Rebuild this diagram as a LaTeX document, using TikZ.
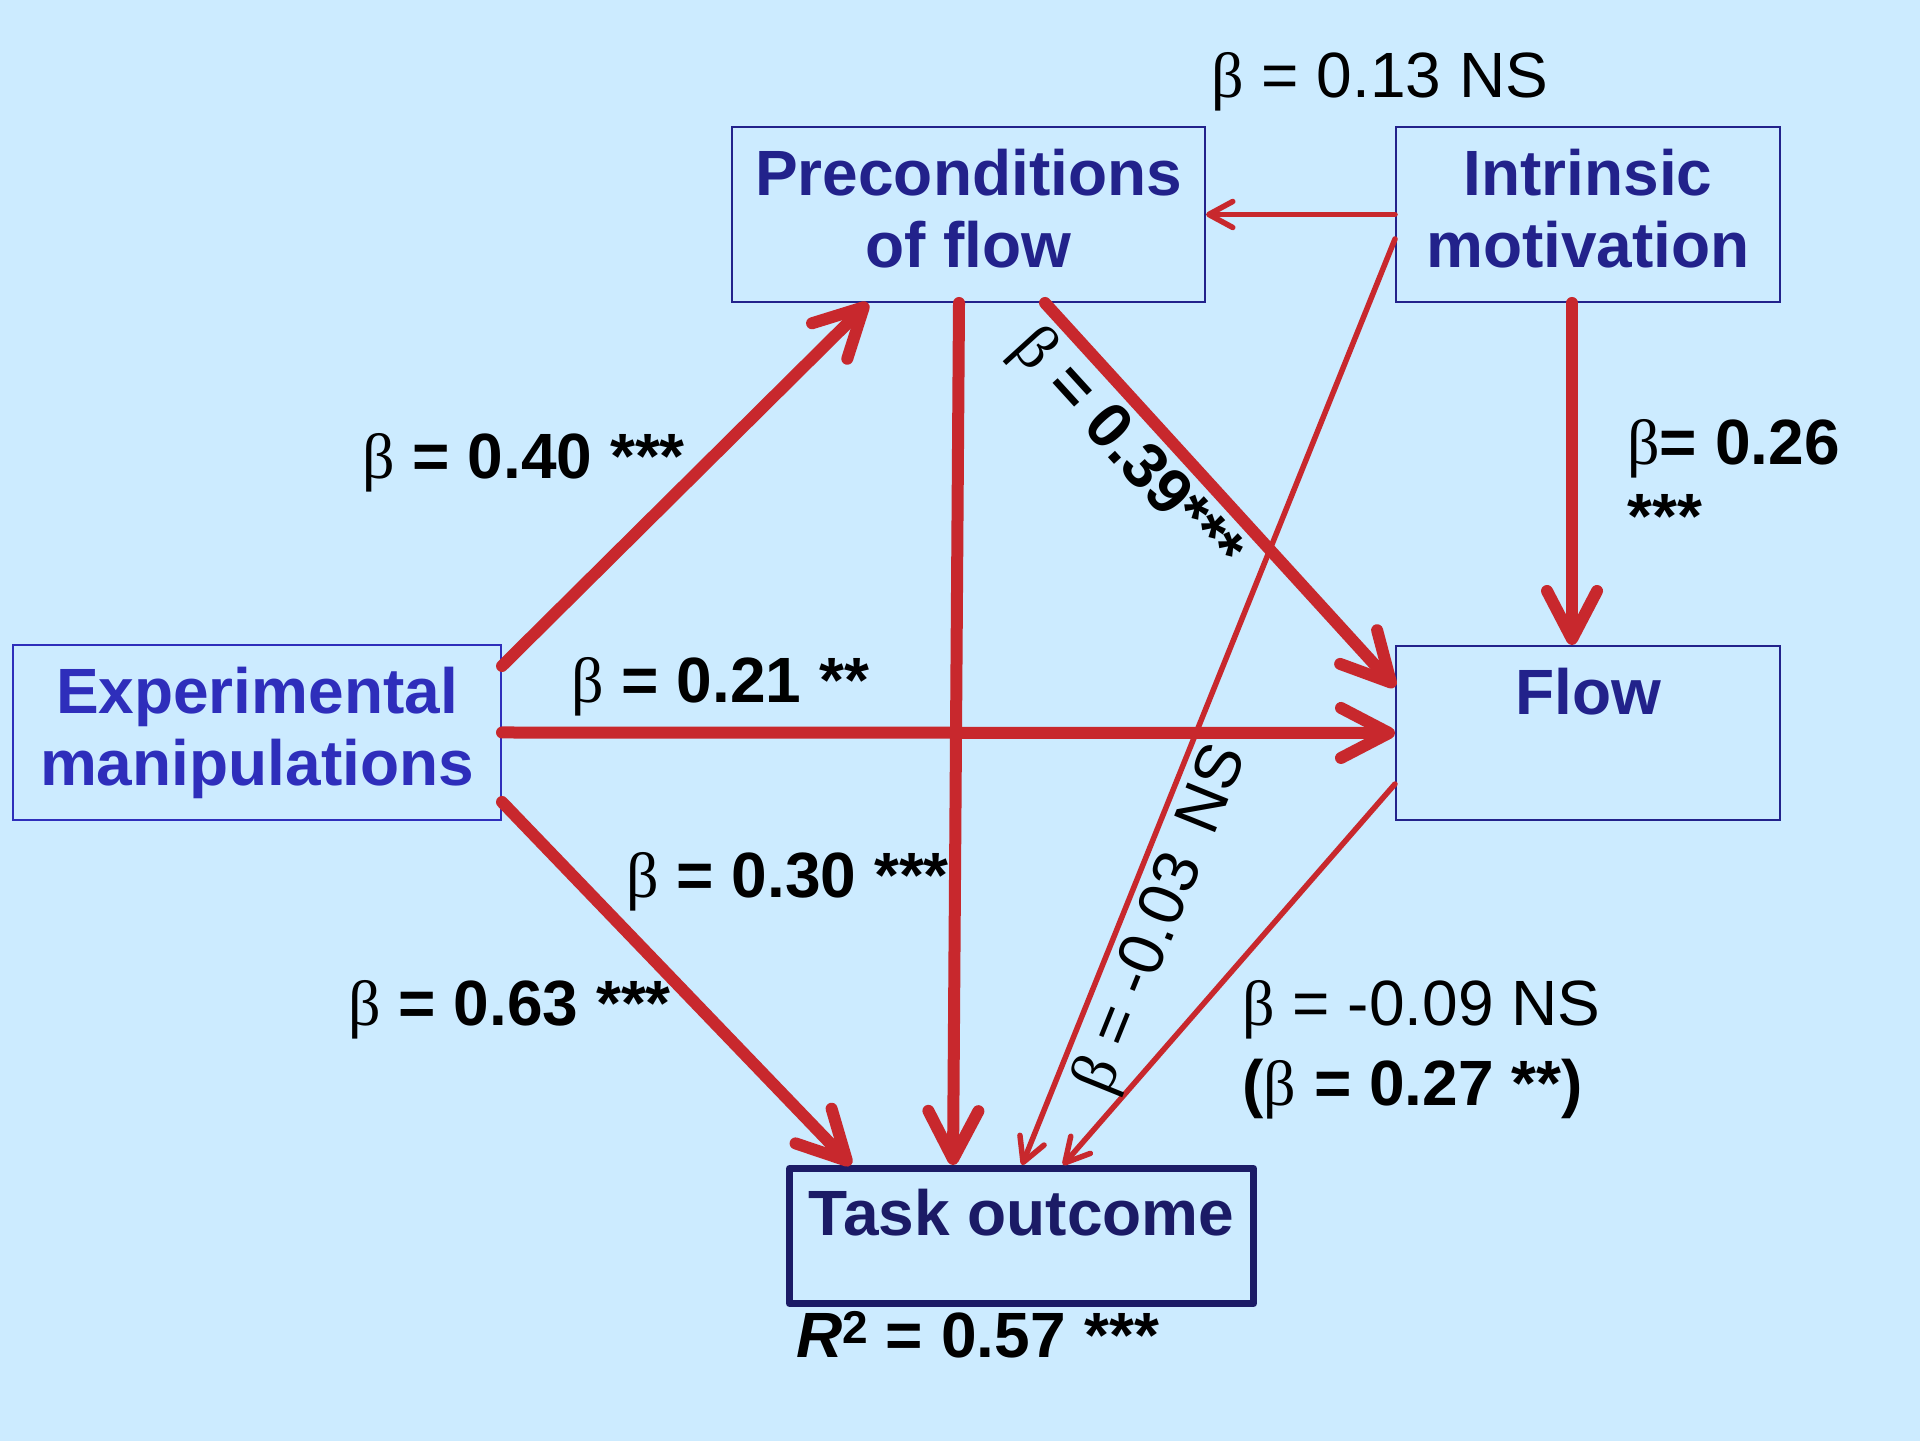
\documentclass[tikz,border=0pt]{standalone}
\usepackage{fontspec}
\setmainfont{Liberation Sans}
\newfontfamily\betafont{Liberation Serif}
\usetikzlibrary{arrows.meta}
\definecolor{bg}{RGB}{204,235,255}
\definecolor{arrowred}{RGB}{200,40,45}
\definecolor{navy}{RGB}{34,34,139}
\definecolor{expblue}{RGB}{46,46,187}
\definecolor{tasknavy}{RGB}{27,27,102}
\newcommand{\gb}{{\betafont\mdseries β}}
\newcommand{\bigfont}{\fontsize{32pt}{36pt}\selectfont}
\tikzset{
  box/.style={draw=navy, line width=1pt, text=navy, font=\bfseries\bigfont, inner sep=0pt},
  thk/.style={draw=arrowred, line width=6pt, line cap=round, -{Straight Barb[length=24pt,width=25pt,round]}},
  thn/.style={draw=arrowred, line width=2.75pt, line cap=round, -{Straight Barb[length=12pt,width=13pt,round]}},
  lbb/.style={inner sep=0pt, anchor=base west, font=\bfseries\bigfont, text=black},
  lbr/.style={inner sep=0pt, anchor=base west, font=\bigfont, text=black}
}
\begin{document}
\begin{tikzpicture}[x=0.5pt,y=0.5pt]
\useasboundingbox (0,0) rectangle (1920,1440);
\fill[bg] (-4,-4) rectangle (1924,1444);

% boxes
\node[box, align=center, minimum width=236.5pt, minimum height=87.5pt] (pre) at (968.5,1225.5) {Preconditions\\of flow\vphantom{p}};
\node[box, align=center, minimum width=192pt, minimum height=87.5pt] (intr) at (1588,1225.5) {Intrinsic\\motivation\vphantom{p}};
\node[box, align=center, draw=expblue, text=expblue, minimum width=244pt, minimum height=87.5pt] (exp) at (257,707.5) {Experimental\\manipulations};
\node[box, minimum width=192pt, text height=34.5pt, text depth=52.5pt, anchor=north] (flow) at (1588,795) {Flow};
\node[draw=tasknavy, line width=3.5pt, line join=round, text=tasknavy, font=\bfseries\bigfont,
      inner sep=0pt, minimum width=232pt, text height=33.25pt, text depth=34.25pt, anchor=north] (task) at (1021.5,275) {Task outcome};

% connectors
\draw[thk] ([yshift=-11pt]exp.north east) -- ([xshift=68.5pt]pre.south west);
\draw[thk] (exp.east) -- (flow.west);
\draw[thk] ([yshift=9.5pt]exp.south east) -- ([xshift=32.5pt]task.north west);
\draw[thk] ([xshift=114pt]pre.south west) -- ([xshift=83.5pt]task.north west);
\draw[thk] ([xshift=157pt]pre.south west) -- ([yshift=-21pt]flow.north west);
\draw[thk] ([xshift=88.5pt]intr.south west) -- ([xshift=88.5pt]flow.north west);
\draw[thn] (intr.west) -- (pre.east);
\draw[thn] ([yshift=-56.5pt]intr.north west) -- ([xshift=118pt]task.north west);
\draw[thn] ([yshift=-69.5pt]flow.north west) -- ([xshift=138.5pt]task.north west);

% labels
\node[lbr] (l013) at (1211,1342) {\gb{} = 0.13 NS};
\node[lbb] (l040) at (362,961) {\gb{} = 0.40 ***};
\node[lbb] (l021) at (571,737) {\gb{} = 0.21 **};
\node[lbb] (l030) at (626,542) {\gb{} = 0.30 ***};
\node[lbb] (l063) at (348,414) {\gb{} = 0.63 ***};
\node[lbb] (l026) at (1627,975) {\gb= 0.26};
\node[lbb] (l026s) at (1627,901) {***};
\node[lbr] (l009) at (1242,414) {\gb{} = -0.09 NS};
\node[lbb] (l027) at (1242,335) {(\gb{} = 0.27 **)};
\node[lbb] (lr2) at (796,83) {\textit{R}\raisebox{0.21em}{\fontsize{23pt}{23pt}\selectfont 2} = 0.57\hspace{0.3em}***};
\node[lbb, rotate=-47.7, anchor=center] (l039) at (1125,988) {\gb{} = 0.39***};
\node[lbr, rotate=68, anchor=center] (l003) at (1163,520) {\gb{} = -0.03\hspace{0.45em}NS};
\end{tikzpicture}
\end{document}
